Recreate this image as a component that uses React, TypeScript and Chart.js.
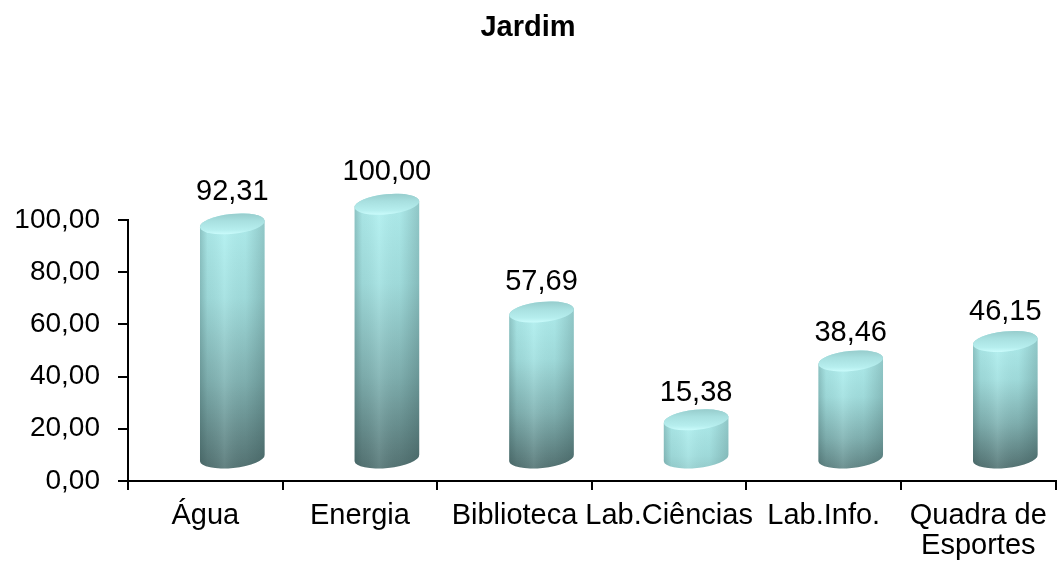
import { useEffect, useRef } from 'react';
import { Chart, registerables } from 'chart.js';

Chart.register(...registerables);

const chartTitle = 'Jardim';
const categories: (string | string[])[] = ['Água', 'Energia', 'Biblioteca', 'Lab.Ciências', 'Lab.Info.', ['Quadra de', 'Esportes']];
const values: number[] = [92.31, 100.0, 57.69, 15.38, 38.46, 46.15];
const yMin = 0;
const yMax = 100;
const yStep = 20;

const FONT = "'Liberation Sans', Arial, sans-serif";
const fmt = (v: number) => v.toFixed(2).replace('.', ',');

const DX = 27;
const DY = -22;
const DEPTH_SCALE = 0.975;
const RY = 10;
const ROT = -0.1;

const cylinderPlugin = {
  id: 'cylinders',
  afterDatasetsDraw(chart: any) {
    const ctx: CanvasRenderingContext2D = chart.ctx;
    const meta = chart.getDatasetMeta(0);
    meta.data.forEach((bar: any, i: number) => {
      const { x, y, base, width } = bar.getProps(['x', 'y', 'base', 'width'], true);
      const cx = x + DX;
      const bottom = base + DY;
      const h = (base - y) * DEPTH_SCALE;
      const top = bottom - h;
      const rx = width / 2;
      const l = cx - rx;
      const r = cx + rx;
      ctx.save();
      const bodyPath = () => {
        ctx.beginPath();
        ctx.ellipse(cx, bottom, rx, RY, ROT, Math.PI, 0, true);
        ctx.ellipse(cx, top, rx, RY, ROT, 0, Math.PI, true);
        ctx.closePath();
      };
      // vertical gradient
      const gLen = Math.max(h, 110);
      const vg = ctx.createLinearGradient(0, top, 0, top + gLen + RY);
      vg.addColorStop(0, '#b2f0f0');
      vg.addColorStop(0.3, '#a4e0e0');
      vg.addColorStop(0.65, '#82b2b2');
      vg.addColorStop(1, '#567474');
      bodyPath();
      ctx.fillStyle = vg;
      ctx.fill();
      // horizontal shading
      const hg = ctx.createLinearGradient(l, 0, r, 0);
      hg.addColorStop(0, 'rgba(20,50,50,0.24)');
      hg.addColorStop(0.12, 'rgba(20,50,50,0.06)');
      hg.addColorStop(0.38, 'rgba(220,255,255,0.10)');
      hg.addColorStop(0.7, 'rgba(20,50,50,0.04)');
      hg.addColorStop(1, 'rgba(20,50,50,0.22)');
      bodyPath();
      ctx.fillStyle = hg;
      ctx.fill();
      // top cap
      const cg = ctx.createLinearGradient(0, top - RY, 0, top + RY);
      cg.addColorStop(0, '#98cece');
      cg.addColorStop(0.35, '#a8e0e0');
      cg.addColorStop(0.8, '#b6eeee');
      cg.addColorStop(1, '#c8fafa');
      ctx.beginPath();
      ctx.ellipse(cx, top, rx, RY, ROT, 0, Math.PI * 2);
      ctx.fillStyle = cg;
      ctx.fill();
      // value label
      ctx.fillStyle = '#000';
      ctx.font = `29px ${FONT}`;
      ctx.textAlign = 'center';
      ctx.textBaseline = 'middle';
      ctx.fillText(fmt(values[i]), cx, y - 48);
      ctx.restore();
    });
  },
};

export default function App() {
  const canvasRef = useRef<HTMLCanvasElement>(null);

  useEffect(() => {
    if (!canvasRef.current) return;
    const chart = new Chart(canvasRef.current, {
      type: 'bar',
      data: {
        labels: categories,
        datasets: [
          {
            data: values,
            backgroundColor: 'rgba(0,0,0,0)',
            borderWidth: 0,
            barPercentage: 0.42,
            categoryPercentage: 1,
          },
        ],
      },
      options: {
        animation: false,
        responsive: true,
        maintainAspectRatio: false,
        layout: { padding: { left: 0, right: 2, top: 0, bottom: 0 } },
        plugins: {
          legend: { display: false },
          tooltip: { enabled: false },
          title: {
            display: true,
            text: chartTitle,
            color: '#000',
            font: { family: FONT, size: 29, weight: 'bold' },
            padding: { top: 11, bottom: 174 },
          },
        },
        scales: {
          x: {
            grid: {
              display: true,
              drawOnChartArea: false,
              drawTicks: true,
              tickLength: 9,
              color: '#000',
              lineWidth: 2,
              offset: true,
            },
            border: { display: true, color: '#000', width: 2 },
            ticks: {
              color: '#000',
              font: { family: FONT, size: 29, lineHeight: 1.04 },
              padding: 11,
              autoSkip: false,
              maxRotation: 0,
              minRotation: 0,
            },
            afterFit: (scale: any) => {
              scale.height = 82;
            },
          },
          y: {
            min: yMin,
            max: yMax,
            grid: {
              display: true,
              drawOnChartArea: false,
              drawTicks: true,
              tickLength: 10,
              color: '#000',
              lineWidth: 2,
            },
            border: { display: true, color: '#000', width: 2 },
            ticks: {
              stepSize: yStep,
              color: '#000',
              font: { family: FONT, size: 28 },
              padding: 18,
              callback: (v: any) => fmt(Number(v)),
            },
            afterFit: (scale: any) => {
              scale.width = 128;
            },
          },
        },
      },
      plugins: [cylinderPlugin],
    });
    return () => chart.destroy();
  }, []);

  return (
    <div style={{ position: 'absolute', left: 0, top: 0, width: 1058, height: 563, background: '#fff' }}>
      <canvas ref={canvasRef} />
    </div>
  );
}
